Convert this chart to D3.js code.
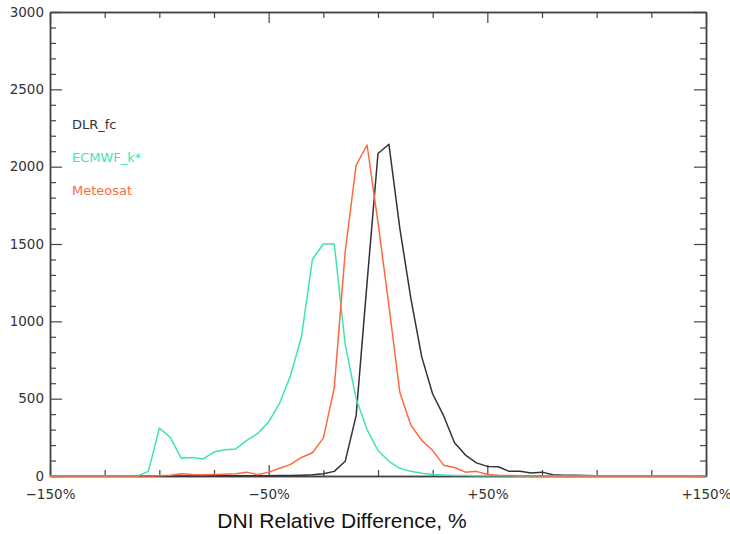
<!DOCTYPE html>
<html>
<head>
<meta charset="utf-8">
<script src="https://cdn.jsdelivr.net/npm/d3@7"></script>
<style>
  html, body { margin: 0; padding: 0; background: #fff; }
  svg { display: block; }
</style>
</head>
<body>
<svg id="chart" width="730" height="534"></svg>
<script>
// Bin centres (DNI relative difference, %)
const bins = [-150,-145,-140,-135,-130,-125,-120,-115,-110,-105,
              -100,-95,-90,-85,-80,-75,-70,-65,-60,-55,
              -50,-45,-40,-35,-30,-25,-20,-15,-10,-5,
              0,5,10,15,20,25,30,35,40,45,
              50,55,60,65,70,75,80,85,90,95,
              100,105,110,115,120,125,130,135,140,145,
              150];

const dlrFc = [0,0,0,0,0,0,0,0,0,0,
               0,0,0,0,0,1,1,1,2,2,
               2,3,3,5,8,15,30,95,390,1250,
               2085,2145,1600,1150,770,530,390,215,135,85,
               62,60,30,30,20,25,8,5,5,3,
               2,1,0,0,0,0,0,0,0,0,
               0];

const ecmwf = [0,0,0,0,0,0,0,0,0,30,
               310,250,115,120,110,155,170,175,230,275,
               350,470,650,900,1400,1500,1500,850,500,300,
               165,95,50,30,18,10,6,4,3,2,
               2,1,1,0,0,0,0,0,0,0,
               0,0,0,0,0,0,0,0,0,0,
               0];

const meteosat = [0,0,0,0,0,0,0,0,0,0,
                  2,5,15,10,8,10,12,15,25,8,
                  25,50,75,120,150,245,570,1450,2010,2140,
                  1640,1100,540,330,230,165,70,55,25,30,
                  10,5,3,2,1,0,0,0,0,0,
                  0,0,0,0,0,0,0,0,0,0,
                  0];

const seriesNames = ["DLR_fc", "ECMWF_k*", "Meteosat"];
const seriesColors = ["#333333", "#3fe3b5", "#ff6a3d"];
const seriesData = [dlrFc, ecmwf, meteosat];

const xMajorTicks = [-150, -50, 50, 150];
const xTickLabels = ["\u2212150%", "\u221250%", "+50%", "+150%"];
const xMinorTicks = [-125,-100,-75,-25,0,25,75,100,125];
const yMajorTicks = [0, 500, 1000, 1500, 2000, 2500, 3000];
const yMinorTicks = [100,200,300,400,600,700,800,900,1100,1200,1300,1400,
                     1600,1700,1800,1900,2100,2200,2300,2400,2600,2700,2800,2900];

const svg = d3.select("#chart");
const mLeft = 50, mRight = 706, mTop = 12, mBottom = 476;

const x = d3.scaleLinear().domain([-150, 150]).range([mLeft, mRight]);
const y = d3.scaleLinear().domain([0, 3000]).range([mBottom, mTop]);

const axisColor = "#444";
const tickFont = "'DejaVu Sans', sans-serif";

function drawAxis(axisGen, transform) {
  const g = svg.append("g").attr("transform", transform).call(axisGen);
  g.selectAll("path").attr("stroke", axisColor).attr("stroke-width", 1.5);
  g.selectAll("line").attr("stroke", axisColor).attr("stroke-width", 1.2);
  return g;
}

// Bottom
drawAxis(d3.axisBottom(x).tickValues(xMajorTicks).tickSize(-11).tickSizeOuter(0)
  .tickFormat((d, i) => xTickLabels[i]).tickPadding(13), `translate(0,${mBottom})`)
  .selectAll("text").attr("font-family", tickFont).attr("font-size", 13.5).attr("fill", "#333");
drawAxis(d3.axisBottom(x).tickValues(xMinorTicks).tickSize(-6).tickSizeOuter(0).tickFormat(""), `translate(0,${mBottom})`);
// Top
drawAxis(d3.axisTop(x).tickValues(xMajorTicks).tickSize(-11).tickSizeOuter(0).tickFormat(""), `translate(0,${mTop})`);
drawAxis(d3.axisTop(x).tickValues(xMinorTicks).tickSize(-6).tickSizeOuter(0).tickFormat(""), `translate(0,${mTop})`);
// Left
drawAxis(d3.axisLeft(y).tickValues(yMajorTicks).tickSize(-12).tickSizeOuter(0).tickPadding(6)
  .tickFormat(d3.format("d")), `translate(${mLeft},0)`)
  .selectAll("text").attr("font-family", tickFont).attr("font-size", 13.5).attr("fill", "#333");
drawAxis(d3.axisLeft(y).tickValues(yMinorTicks).tickSize(-6).tickSizeOuter(0).tickFormat(""), `translate(${mLeft},0)`);
// Right
drawAxis(d3.axisRight(y).tickValues(yMajorTicks).tickSize(-12).tickSizeOuter(0).tickFormat(""), `translate(${mRight},0)`);
drawAxis(d3.axisRight(y).tickValues(yMinorTicks).tickSize(-6).tickSizeOuter(0).tickFormat(""), `translate(${mRight},0)`);

// Lines
const line = d3.line().x((d, i) => x(bins[i])).y(d => y(d));
seriesData.forEach((data, k) => {
  svg.append("path")
    .datum(data)
    .attr("d", line)
    .attr("fill", "none")
    .attr("stroke", seriesColors[k])
    .attr("stroke-width", 1.5)
    .attr("stroke-linejoin", "round");
});

// Legend
const legendY = [124, 157, 190];
seriesNames.forEach((name, k) => {
  svg.append("text")
    .attr("x", 72)
    .attr("y", legendY[k])
    .attr("dy", "0.35em")
    .attr("font-family", tickFont)
    .attr("font-size", 13)
    .attr("fill", seriesColors[k])
    .text(name);
});

// Axis title
svg.append("text")
  .attr("x", 342)
  .attr("y", 528)
  .attr("text-anchor", "middle")
  .attr("font-family", "'Liberation Sans', Arial, sans-serif")
  .attr("font-size", 21)
  .attr("fill", "#111")
  .text("DNI Relative Difference, %");
</script>
</body>
</html>
